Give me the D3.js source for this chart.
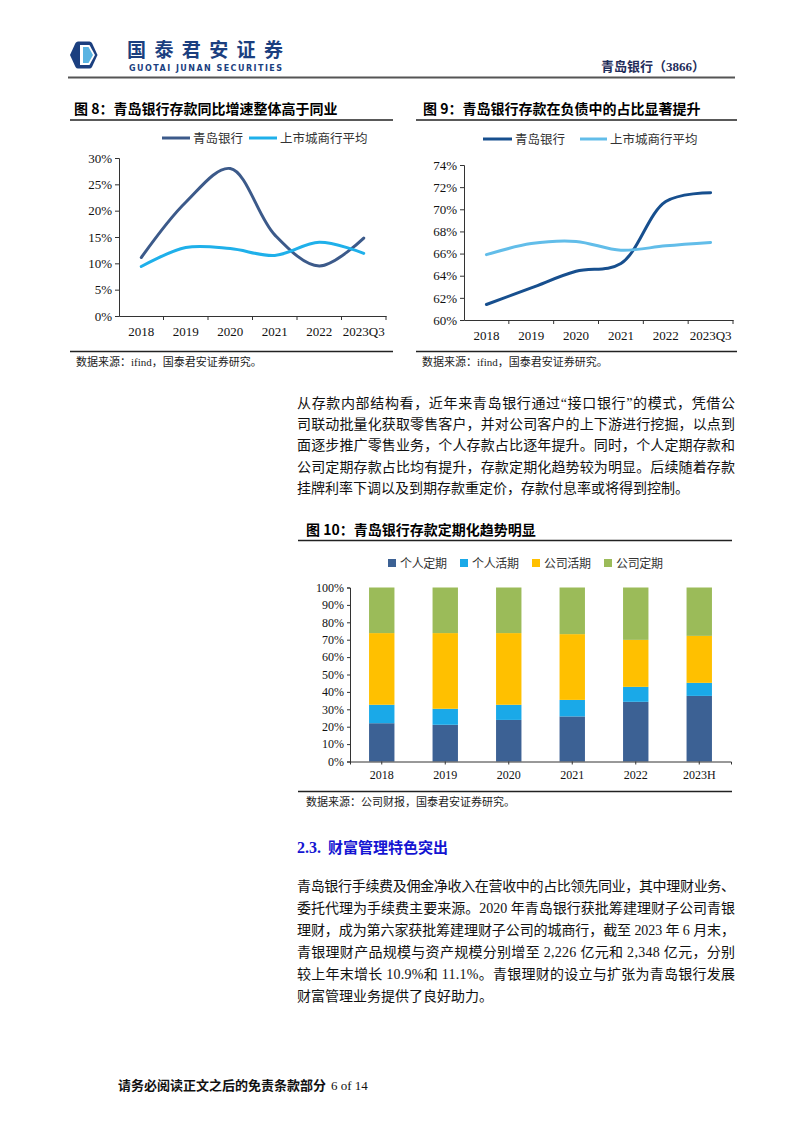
<!DOCTYPE html>
<html><head><meta charset="utf-8">
<script src="https://cdn.jsdelivr.net/npm/d3@7"></script>
<style>body{margin:0;background:#fff}svg{display:block}</style>
</head><body><svg id="c" width="802" height="1133"></svg>
<script>
// ---------- data ----------
const years8 = ["2018","2019","2020","2021","2022","2023Q3"];
const qdGrowth = [11.1, 21.6, 28.0, 15.4, 9.5, 14.8];
const cityGrowth = [9.4, 13.0, 12.8, 11.5, 14.0, 11.9];
const ticks8 = [0,5,10,15,20,25,30];

const years9 = ["2018","2019","2020","2021","2022","2023Q3"];
const qdShare = [61.4, 62.9, 64.4, 65.1, 70.7, 71.5];
const cityShare = [65.9, 66.9, 67.1, 66.3, 66.7, 67.0];
const ticks9 = [60,62,64,66,68,70,72,74];

const years10 = ["2018","2019","2020","2021","2022","2023H"];
const series10 = ["个人定期","个人活期","公司活期","公司定期"];
const personalTime = [22.0,21.1,23.9,25.9,34.3,37.7];
const personalDemand = [10.6,9.2,8.7,9.5,8.6,7.5];
const corpDemand = [41.2,43.5,41.2,37.8,27.0,27.0];
const corpTime = [26.2,26.2,26.2,26.8,30.1,27.8];
const ticks10 = [0,10,20,30,40,50,60,70,80,90,100];

const lineNames = ["青岛银行","上市城商行平均"];

const para1 = [
 "从存款内部结构看，近年来青岛银行通过“接口银行”的模式，凭借公",
 "司联动批量化获取零售客户，并对公司客户的上下游进行挖掘，以点到",
 "面逐步推广零售业务，个人存款占比逐年提升。同时，个人定期存款和",
 "公司定期存款占比均有提升，存款定期化趋势较为明显。后续随着存款",
 "挂牌利率下调以及到期存款重定价，存款付息率或将得到控制。"
];
const para2 = [
 "青岛银行手续费及佣金净收入在营收中的占比领先同业，其中理财业务、",
 "委托代理为手续费主要来源。2020 年青岛银行获批筹建理财子公司青银",
 "理财，成为第六家获批筹建理财子公司的城商行，截至 2023 年 6 月末，",
 "青银理财产品规模与资产规模分别增至 2,226 亿元和 2,348 亿元，分别",
 "较上年末增长 10.9%和 11.1%。青银理财的设立与扩张为青岛银行发展",
 "财富管理业务提供了良好助力。"
];

// ---------- helpers ----------
const svg = d3.select("#c");
const MIX = "'Liberation Serif','Noto Sans CJK SC',serif";
const CJK = "'Noto Sans CJK SC',sans-serif";
svg.append("rect").attr("width",802).attr("height",1133).attr("fill","#fff");

function txt(x,y,s,o={}){
  const t = svg.append("text").attr("x",x).attr("y",y).text(s)
    .attr("font-family",o.ff||MIX).attr("font-size",o.fs||14)
    .attr("fill",o.fill||"#111").attr("font-weight",o.fw||400);
  if(o.anchor) t.attr("text-anchor",o.anchor);
  if(o.tl) t.attr("textLength",o.tl).attr("lengthAdjust","spacing");
  return t;
}
function hline(x1,x2,y,w,c){svg.append("line").attr("x1",x1).attr("x2",x2).attr("y1",y).attr("y2",y).attr("stroke",c||"#222").attr("stroke-width",w||1);}

// ---------- header ----------
const lg = svg.append("g");
lg.append("path").attr("d","M70,55 L75.5,43 Q76.5,41.5 78,41.5 L89.5,41.5 Q91,41.5 92,43 L97.5,55 L92,67 Q91,68.5 89.5,68.5 L78,68.5 Q76.5,68.5 75.5,67 Z").attr("fill","#1b3f7f");
lg.append("path").attr("d","M80,45 L89.5,45 L95,55 L89.5,65 L80,65 Z").attr("fill","#fff");
lg.append("path").attr("d","M83,47 L88.5,47 L93,55 L88.5,63 L83,63 Z").attr("fill","#5ab4e2");
txt(127,57,"国泰君安证券",{ff:CJK,fs:19,fw:700,fill:"#1b3f7f",tl:156});
txt(129,71,"GUOTAI JUNAN SECURITIES",{ff:"'DejaVu Sans',sans-serif",fs:8,fw:700,fill:"#1b3f7f",tl:153});
txt(601,71,"青岛银行（3866）",{fs:13,fw:700,fill:"#1f2d5a"});
hline(68,735,77.5,2,"#555");

// ---------- line charts ----------
function lineChart(cfg){
  const g = svg.append("g");
  txt(cfg.titleX,114,cfg.title,{ff:CJK,fs:14,fw:700,fill:"#000"});
  hline(cfg.ulX1,cfg.ulX2,120,1.3,"#222");
  hline(cfg.ulX1,cfg.ulX2,351.5,1.3,"#222");
  txt(cfg.ulX1+6,366,"数据来源：ifind，国泰君安证券研究。",{fs:11,fill:"#222"});
  const x = d3.scaleBand().domain(cfg.years).range([cfg.x0,cfg.x1]);
  const y = d3.scaleLinear().domain([cfg.ticks[0],cfg.ticks[cfg.ticks.length-1]]).range([cfg.yb,cfg.yt]);
  // legend
  cfg.legend.forEach((L,i)=>{
    hline(L[0],L[1],cfg.legY,3,cfg.colors[i]);
    txt(L[1]+3,cfg.legY+4.5,lineNames[i],{ff:CJK,fs:12.5,fill:"#333"});
  });
  // y axis
  const ya = g.append("g").attr("transform",`translate(${cfg.x0},0)`)
    .call(d3.axisLeft(y).tickValues(cfg.ticks).tickSize(4).tickPadding(3).tickFormat(d=>d+"%"));
  ya.selectAll("text").attr("font-family",MIX).attr("font-size",13).attr("fill","#111");
  ya.selectAll("line,path").attr("stroke","#333");
  // x axis
  const xa = g.append("g").attr("transform",`translate(0,${cfg.yb})`)
    .call(d3.axisBottom(x).tickSize(0).tickPadding(11));
  xa.selectAll("text").attr("font-family",MIX).attr("font-size",13).attr("fill","#111");
  xa.select("path").attr("stroke","#333");
  cfg.years.slice(1).concat(["__end"]).forEach(d=>{
    const xx = d==="__end" ? x.range()[1] : x(d);
    g.append("line").attr("x1",xx).attr("x2",xx).attr("y1",cfg.yb).attr("y2",cfg.yb+4).attr("stroke","#333");
  });
  const ln = d3.line().x((d,i)=>x(cfg.years[i])+x.bandwidth()/2).y(d=>y(d)).curve(d3.curveCatmullRom.alpha(0.5));
  cfg.series.forEach((s,i)=>{
    g.append("path").attr("d",ln(s)).attr("fill","none").attr("stroke",cfg.colors[i]).attr("stroke-width",3).attr("stroke-linecap","round");
  });
}

lineChart({title:"图 8：青岛银行存款同比增速整体高于同业",titleX:74,ulX1:70,ulX2:393,
  years:years8,ticks:ticks8,x0:119,x1:386,yt:158,yb:316,
  series:[qdGrowth,cityGrowth],colors:["#3c5a8a","#1fb0ea"],
  legY:138,legend:[[162,190],[249,277]]});
lineChart({title:"图 9：青岛银行存款在负债中的占比显著提升",titleX:423,ulX1:416,ulX2:737,
  years:years9,ticks:ticks9,x0:464,x1:733,yt:165,yb:320,
  series:[qdShare,cityShare],colors:["#174f8e","#62bde9"],
  legY:139,legend:[[483,512],[580,607]]});

// ---------- paragraph 1 ----------
function para(lines,x,y0,dy,w){
  lines.forEach((s,i)=>{
    txt(x,y0+i*dy,s,{fs:14,fill:"#111",tl: i<lines.length-1 ? w : null});
  });
}
para(para1,297,408,21.2,438);

// ---------- chart 10 ----------
(function(){
  const g = svg.append("g");
  txt(306,535,"图 10：青岛银行存款定期化趋势明显",{ff:CJK,fs:14,fw:700,fill:"#000"});
  hline(298,732,540.5,1.3,"#222");
  hline(298,732,791.5,1.3,"#222");
  txt(306,806,"数据来源：公司财报，国泰君安证券研究。",{fs:11,fill:"#222"});
  const colors = ["#3c6194","#1aa9e8","#ffc000","#9bbb59"];
  const rows = years10.map((yr,i)=>({year:yr,"个人定期":personalTime[i],"个人活期":personalDemand[i],"公司活期":corpDemand[i],"公司定期":corpTime[i]}));
  const stack = d3.stack().keys(series10)(rows);
  const x = d3.scaleBand().domain(years10).range([350,731]).paddingInner(0.6).paddingOuter(0.3);
  const y = d3.scaleLinear().domain([0,100]).range([761.5,587.5]);
  // legend
  const lx = [388,460,532,604];
  series10.forEach((s,i)=>{
    g.append("rect").attr("x",lx[i]).attr("y",559).attr("width",8).attr("height",8).attr("fill",colors[i]);
    txt(lx[i]+12,567.5,s,{ff:CJK,fs:12,fill:"#333",tl:47});
  });
  stack.forEach((layer,k)=>{
    g.selectAll(null).data(layer).enter().append("rect")
      .attr("x",d=>x(d.data.year)).attr("width",x.bandwidth())
      .attr("y",d=>y(d[1])).attr("height",d=>y(d[0])-y(d[1]))
      .attr("fill",colors[k]);
  });
  const ya = g.append("g").attr("transform","translate(350,0)")
    .call(d3.axisLeft(y).tickValues(ticks10).tickSize(3).tickPadding(3).tickFormat(d=>d+"%"));
  ya.selectAll("text").attr("font-family",MIX).attr("font-size",12).attr("fill","#111");
  ya.selectAll("line,path").attr("stroke","#333");
  const xa = g.append("g").attr("transform","translate(0,761.5)")
    .call(d3.axisBottom(x).tickSize(3).tickPadding(6));
  xa.selectAll("text").attr("font-family",MIX).attr("font-size",12).attr("fill","#111");
  xa.selectAll("line,path").attr("stroke","#333");
})();

// ---------- section 2.3 ----------
txt(297,853,"2.3.",{fs:16,fw:700,fill:"#1414d2"});
txt(328,853,"财富管理特色突出",{ff:CJK,fs:15,fw:700,fill:"#1414d2"});
para(para2,297,891,22,438);

// ---------- footer ----------
txt(118,1090,"请务必阅读正文之后的免责条款部分",{ff:CJK,fs:13,fw:700,fill:"#111"});
txt(331,1090,"6 of 14",{fs:13,fill:"#111"});
</script></body></html>
